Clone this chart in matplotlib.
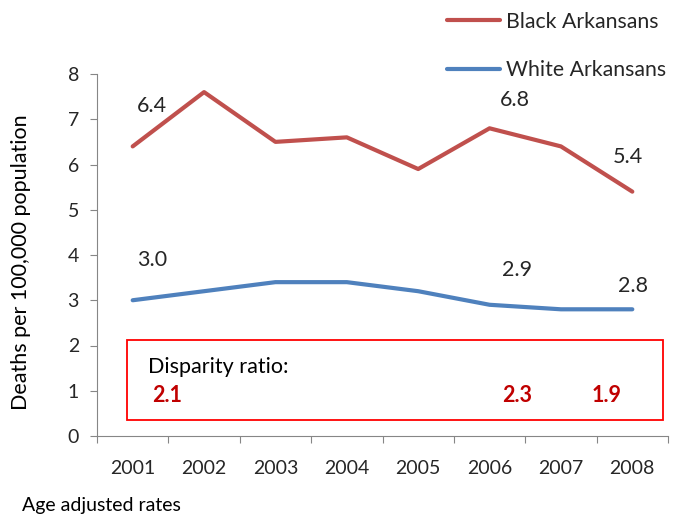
import matplotlib.pyplot as plt

# ---------------------------------------------------------------
# Data
# ---------------------------------------------------------------
years = ["2001", "2002", "2003", "2004", "2005", "2006", "2007", "2008"]
black = [6.4, 7.6, 6.5, 6.6, 5.9, 6.8, 6.4, 5.4]
white = [3.0, 3.2, 3.4, 3.4, 3.2, 2.9, 2.8, 2.8]

# years that carry a value label, and the disparity ratios shown in the box
labelled_black = ["2001", "2006", "2008"]
labelled_white = ["2001", "2006", "2008"]
ratio_years = ["2001", "2006", "2007"]
ratios = [2.1, 2.3, 1.9]

RED = "#C0504D"
BLUE = "#4F81BD"
GREY = "#868686"
TXT = "#262626"

plt.rcParams["font.family"] = ["Lato", "DejaVu Sans"]

fig = plt.figure(figsize=(6.88, 5.17), dpi=100)
ax = fig.add_axes([97 / 688, 1 - 436 / 517, 571 / 688, 362 / 517])

x = list(range(len(years)))
ax.plot(x, black, color=RED, lw=3, solid_capstyle="round", label="Black Arkansans")
ax.plot(x, white, color=BLUE, lw=3, solid_capstyle="round", label="White Arkansans")

# value labels (offsets in data units)
black_off = [(0.27, 0.90), (0.35, 0.63), (-0.06, 0.77)]
white_off = [(0.27, 0.89), (0.38, 0.77), (0.01, 0.51)]
for yr, (dx, dy) in zip(labelled_black, black_off):
    i = years.index(yr)
    ax.text(i + dx, black[i] + dy, f"{black[i]:.1f}", ha="center", va="center",
            fontsize=15.5, color=TXT)
for yr, (dx, dy) in zip(labelled_white, white_off):
    i = years.index(yr)
    ax.text(i + dx, white[i] + dy, f"{white[i]:.1f}", ha="center", va="center",
            fontsize=15.5, color=TXT)

# disparity box
ax.add_patch(plt.Rectangle((-0.08, 0.35), 7.51, 1.77, fill=False,
                           edgecolor="#FF0000", lw=1.3, clip_on=False))
ax.text(0.21, 1.53, "Disparity ratio:", ha="left", va="center", fontsize=15.5, color="black")
ratio_dx = [0.48, 0.38, 0.64]
for yr, r, dx in zip(ratio_years, ratios, ratio_dx):
    i = years.index(yr)
    ax.text(i + dx, 0.9, f"{r:.1f}", ha="center", va="center", fontsize=15.5,
            fontweight="bold", color="#C00000")

# axes styling
ax.set_xlim(-0.5, len(years) - 0.5)
ax.set_ylim(0, 8)
ax.set_yticks(range(0, 9))
ax.set_xticks([i - 0.5 for i in range(len(years) + 1)])
ax.set_xticklabels([])
ax.set_xticks(x, minor=True)
ax.set_xticklabels(years, minor=True)
ax.tick_params(axis="x", which="minor", length=0, pad=17, labelsize=14, labelcolor=TXT)
ax.tick_params(axis="x", which="major", length=5, color=GREY, direction="out")
ax.tick_params(axis="y", length=5, color=GREY, direction="out", labelsize=14,
               labelcolor=TXT, pad=8)
for s in ["top", "right"]:
    ax.spines[s].set_visible(False)
for s in ["left", "bottom"]:
    ax.spines[s].set_color(GREY)

ax.set_ylabel("Deaths per 100,000 population", fontsize=15.5, color="black")
ax.yaxis.set_label_coords(-0.115, 0.48)

ax.legend(loc="upper left", bbox_to_anchor=(0.598, 1.195), frameon=False, fontsize=15.3,
          handlelength=2.5, labelspacing=1.32, handletextpad=0.3, labelcolor=TXT,
          borderaxespad=0)

fig.text(22 / 688, 1 - 505 / 517, "Age adjusted rates", fontsize=14, color="black",
         va="center", ha="left")

fig.savefig("out.png", dpi=100)
